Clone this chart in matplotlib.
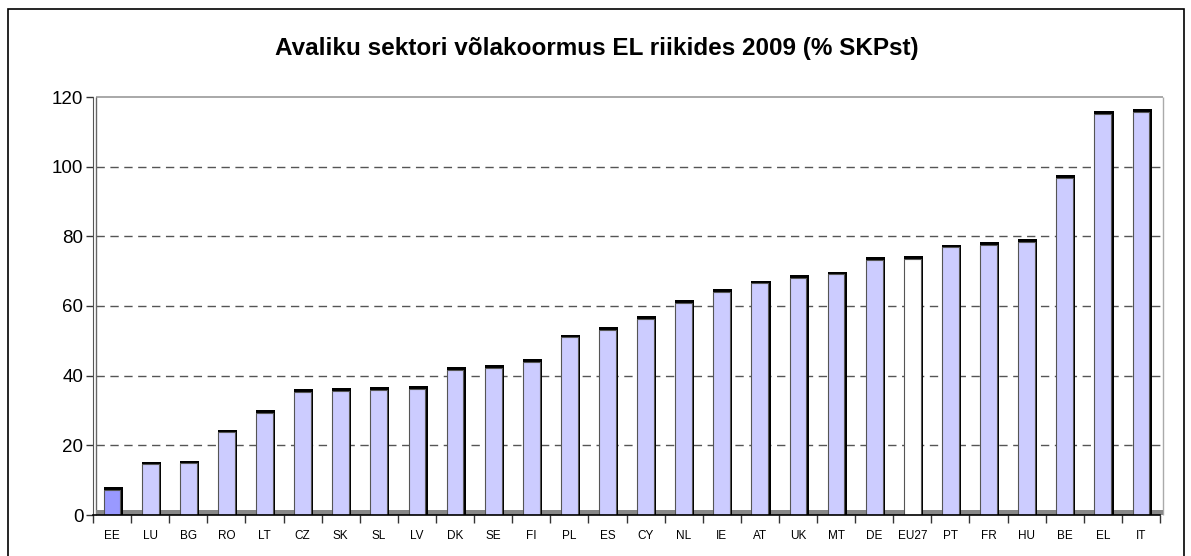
import matplotlib
matplotlib.use('Agg')
from matplotlib import pyplot as plt
from matplotlib.patches import Rectangle
import numpy as np

plt.rcParams['font.family'] = ['Liberation Sans', 'DejaVu Sans']

# Valitsemissektori võlg 2009, % SKPst #
countries = ['EE', 'LU', 'BG', 'RO', 'LT', 'CZ', 'SK', 'SL', 'LV', 'DK',
             'SE', 'FI', 'PL', 'ES', 'CY', 'NL', 'IE', 'AT', 'UK', 'MT',
             'DE', 'EU27', 'PT', 'FR', 'HU', 'BE', 'EL', 'IT']
debt = [7.2, 14.5, 14.8, 23.7, 29.3, 35.4, 35.7, 35.9, 36.1, 41.6,
        42.3, 44.0, 51.0, 53.2, 56.2, 60.9, 64.0, 66.5, 68.1, 69.1,
        73.2, 73.6, 76.8, 77.6, 78.3, 96.7, 115.1, 115.8]
y_ticks = [0, 20, 40, 60, 80, 100, 120]

TITLE = 'Avaliku sektori võlakoormus EL riikides 2009 (% SKPst)'

colors = ['#CCCCFF'] * len(countries)
colors[countries.index('EE')] = '#9999FF'
colors[countries.index('EU27')] = '#FFFFFF'

fig = plt.figure(figsize=(11.91, 5.56), dpi=100)
ax = fig.add_axes([93 / 1191, 41 / 556, 1067 / 1191, 418 / 556])

x = np.arange(len(countries))
n = len(countries)
depth = 0.08  # 3D nihe x-suunas

# Tagasein: põrand ja ruudustik #
ax.add_patch(Rectangle((-0.5 + depth, 0), n, 1.3, facecolor='#888888',
                       edgecolor='none', zorder=1, clip_on=False))
ax.hlines(y_ticks[1:-1], -0.5 + depth, n - 0.5 + depth, colors='#555555',
          linestyles=(0, (6, 4)), linewidth=1.0, zorder=0.5, clip_on=False)
ax.hlines(120, -0.5 + depth, n - 0.5 + depth, colors='#999999',
          linewidth=1.2, zorder=0.5, clip_on=False)
ax.vlines(n - 0.5 + depth, 0, 120, colors='#aaaaaa', linewidth=1.0,
          zorder=0.5, clip_on=False)
ax.vlines(-0.5 + depth, 0, 120, colors='#666666', linewidth=1.0,
          zorder=0.5, clip_on=False)

# Tulbad 3D varjuga (must ülemine ja parem serv) #
w = 0.44
ax.bar(x - w / 2, np.array(debt) + 0.8, width=w + 0.06, align='edge',
       color='black', zorder=2)
ax.bar(x - w / 2, debt, width=w, align='edge', color=colors,
       edgecolor='#555555', linewidth=0.8, zorder=3)

ax.set_xlim(-0.5, n - 0.5)
ax.set_ylim(0, 120)

ax.spines['top'].set_visible(False)
ax.spines['right'].set_visible(False)
ax.spines['left'].set_color('#555555')
ax.spines['bottom'].set_linewidth(1.2)
ax.spines['bottom'].set_zorder(4)

ax.set_yticks(y_ticks)
ax.set_yticklabels([str(v) for v in y_ticks], fontsize=13.5)
ax.tick_params(axis='y', length=5, width=1, color='#333333', pad=2)

ax.set_xticks(np.arange(-0.5, n, 1.0))
ax.set_xticklabels([])
ax.tick_params(axis='x', length=6, width=1, color='#333333')
ax.set_xticks(x, minor=True)
ax.set_xticklabels(countries, minor=True, fontsize=8.5)
ax.tick_params(axis='x', which='minor', length=0, pad=11)

fig.text(597 / 1191, 1 - 48 / 556, TITLE, ha='center', va='center',
         fontsize=17.5, fontweight='bold')

# Välimine raam #
fig.add_artist(Rectangle((8 / 1191, -0.02), 1176 / 1191, 1 - 9 / 556 + 0.02,
                         transform=fig.transFigure, facecolor='none',
                         edgecolor='black', linewidth=1.2))

fig.savefig('out.png', dpi=100)
